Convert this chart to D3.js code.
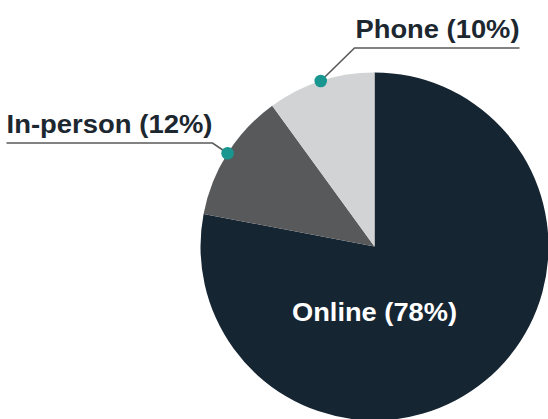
<!DOCTYPE html>
<html><head><meta charset="utf-8">
<script src="https://cdn.jsdelivr.net/npm/d3@7"></script>
<style>body{margin:0;background:#fff}svg{display:block}</style>
</head><body>
<svg id="c" width="548" height="419"></svg>
<script>
const categories = ["Online", "In-person", "Phone"];
const values = [78, 12, 10];
const colors = ["#162532", "#58595b", "#d1d3d4"];
const labels = ["Online (78%)", "In-person (12%)", "Phone (10%)"];

const svg = d3.select("#c");
const cx = 374.5, cy = 246.5, r = 174;
const g = svg.append("g").attr("transform", `translate(${cx},${cy})`);
const pie = d3.pie().sort(null).value(d => d)(values);
const arc = d3.arc().innerRadius(0).outerRadius(r);
g.selectAll("path").data(pie).join("path")
  .attr("d", arc).attr("fill", (d, i) => colors[i]);

const font = "'Liberation Sans', Arial, Helvetica, sans-serif";
const fs = 26.5;
// Online label inside
g.append("text").attr("x", 0).attr("y", 74)
  .attr("text-anchor", "middle").attr("fill", "#ffffff")
  .attr("font-family", font).attr("font-weight", "bold").attr("font-size", fs)
  .attr("textLength", 165).attr("lengthAdjust", "spacingAndGlyphs")
  .text(labels[0]);

// external labels
const ext = [
  {i: 1, lineY: -103.5, x0: -368, x1: -162, textX: -368, w: 206},
  {i: 2, lineY: -198.5, x0: -20, x1: 145, textX: -19, w: 164}
];
ext.forEach(e => {
  const d = pie[e.i];
  const a = (d.startAngle + d.endAngle) / 2;
  const px = Math.sin(a) * r, py = -Math.cos(a) * r;
  const knee = e.i === 1 ? e.x1 : e.x0;
  g.append("path")
    .attr("d", `M${e.i === 1 ? e.x0 : e.x1},${e.lineY}H${knee}L${px},${py}`)
    .attr("fill", "none").attr("stroke", "#5a5a5a").attr("stroke-width", 1.6);
  g.append("circle").attr("cx", px).attr("cy", py).attr("r", 6.3).attr("fill", "#18968f");
  g.append("text").attr("x", e.textX).attr("y", e.lineY - 10)
    .attr("text-anchor", "start").attr("fill", "#1c2730")
    .attr("font-family", font).attr("font-weight", "bold").attr("font-size", fs)
    .attr("textLength", e.w).attr("lengthAdjust", "spacingAndGlyphs")
    .text(labels[e.i]);
});
</script>
</body></html>
